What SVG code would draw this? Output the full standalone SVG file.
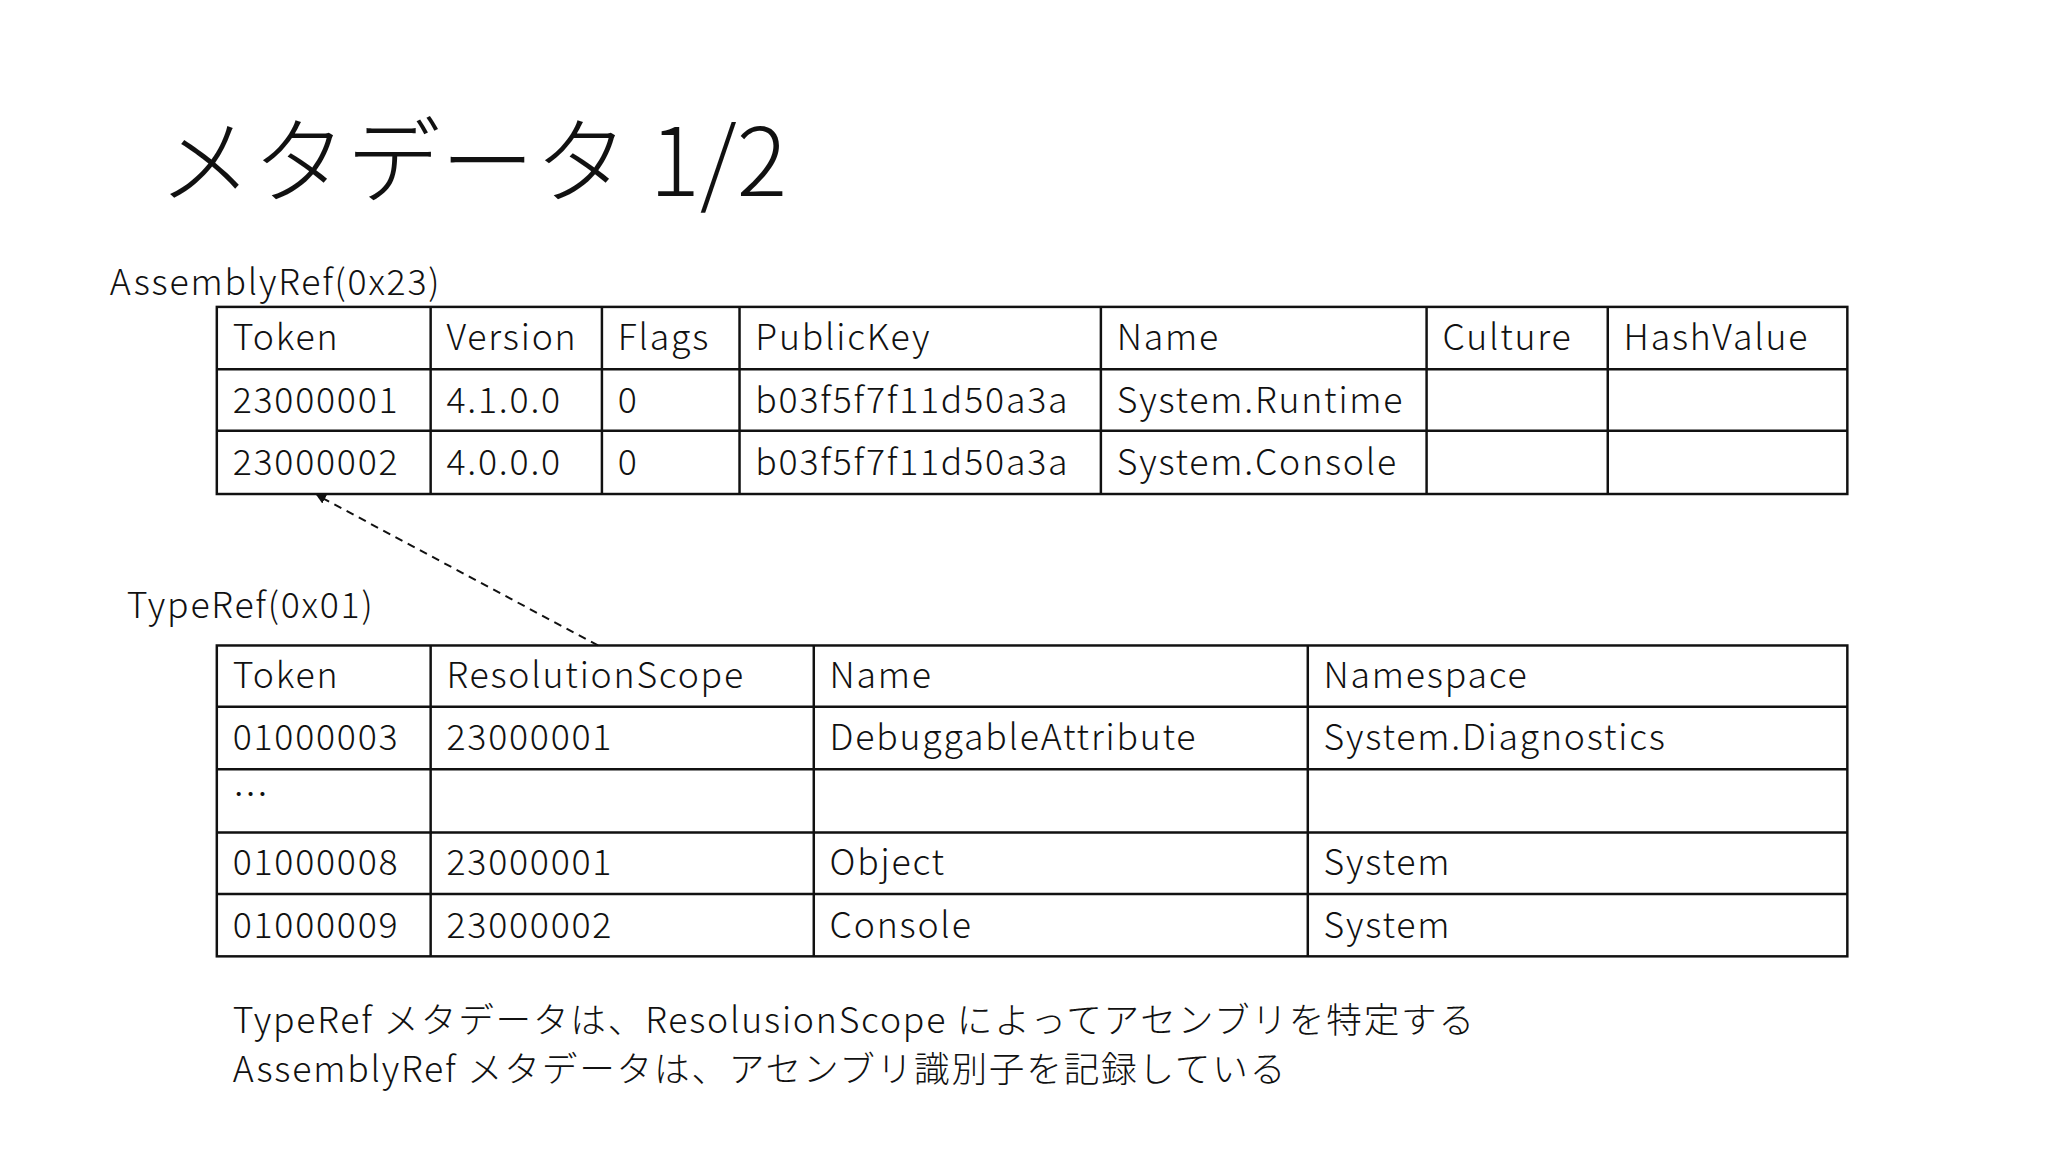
<svg xmlns="http://www.w3.org/2000/svg" width="2048" height="1152" viewBox="0 0 2048 1152">
<style>
text{font-family:"Noto Sans CJK JP","Noto Sans",sans-serif;font-weight:300;fill:#111;font-size:36px;letter-spacing:1.8px}
.g{fill:none;stroke:#111;stroke-width:2.5}
.t{font-size:95px;letter-spacing:0}
</style>
<defs><marker id="ah" markerWidth="10" markerHeight="10" refX="9" refY="5" orient="auto" markerUnits="userSpaceOnUse"><path d="M0,0 L10,5 L0,10 z" fill="#111"/></marker></defs>
<rect width="2048" height="1152" fill="#fff"/>
<g transform="scale(0.99)">
<text class="t" x="160" y="198">メタデータ 1/2</text>
<g id="assemblyref">
<text x="111" y="298">AssemblyRef(0x23)</text>
<rect class="g" x="219" y="310" width="1647" height="189"/>
<path class="g" d="M219 373H1866M219 435H1866M435 310V499M608 310V499M747 310V499M1112 310V499M1441 310V499M1624 310V499"/>
<text x="235" y="354">Token</text><text x="451" y="354">Version</text><text x="624" y="354">Flags</text><text x="763" y="354">PublicKey</text><text x="1128" y="354">Name</text><text x="1457" y="354">Culture</text><text x="1640" y="354">HashValue</text>
<text x="235" y="417">23000001</text><text x="451" y="417">4.1.0.0</text><text x="624" y="417">0</text><text x="763" y="417">b03f5f7f11d50a3a</text><text x="1128" y="417">System.Runtime</text>
<text x="235" y="480">23000002</text><text x="451" y="480">4.0.0.0</text><text x="624" y="480">0</text><text x="763" y="480">b03f5f7f11d50a3a</text><text x="1128" y="480">System.Console</text>
</g>
<g id="typeref">
<text x="128" y="624">TypeRef(0x01)</text>
<rect class="g" x="219" y="652" width="1647" height="314"/>
<path class="g" d="M219 714H1866M219 777H1866M219 841H1866M219 903H1866M435 652V966M822 652V966M1321 652V966"/>
<text x="235" y="695">Token</text><text x="451" y="695">ResolutionScope</text><text x="838" y="695">Name</text><text x="1337" y="695">Namespace</text>
<text x="235" y="758">01000003</text><text x="451" y="758">23000001</text><text x="838" y="758">DebuggableAttribute</text><text x="1337" y="758">System.Diagnostics</text>
<text x="235" y="815">…</text>
<text x="235" y="884">01000008</text><text x="451" y="884">23000001</text><text x="838" y="884">Object</text><text x="1337" y="884">System</text>
<text x="235" y="947">01000009</text><text x="451" y="947">23000002</text><text x="838" y="947">Console</text><text x="1337" y="947">System</text>
</g>
<g id="connectors">
<line x1="604" y1="652" x2="320" y2="500" stroke="#111" stroke-width="2" stroke-dasharray="8,6" marker-end="url(#ah)"/>
</g>
<g id="notes">
<text x="235" y="1043">TypeRef メタデータは、ResolusionScope によってアセンブリを特定する</text>
<text x="235" y="1093">AssemblyRef メタデータは、アセンブリ識別子を記録している</text>
</g>
</g>
</svg>
